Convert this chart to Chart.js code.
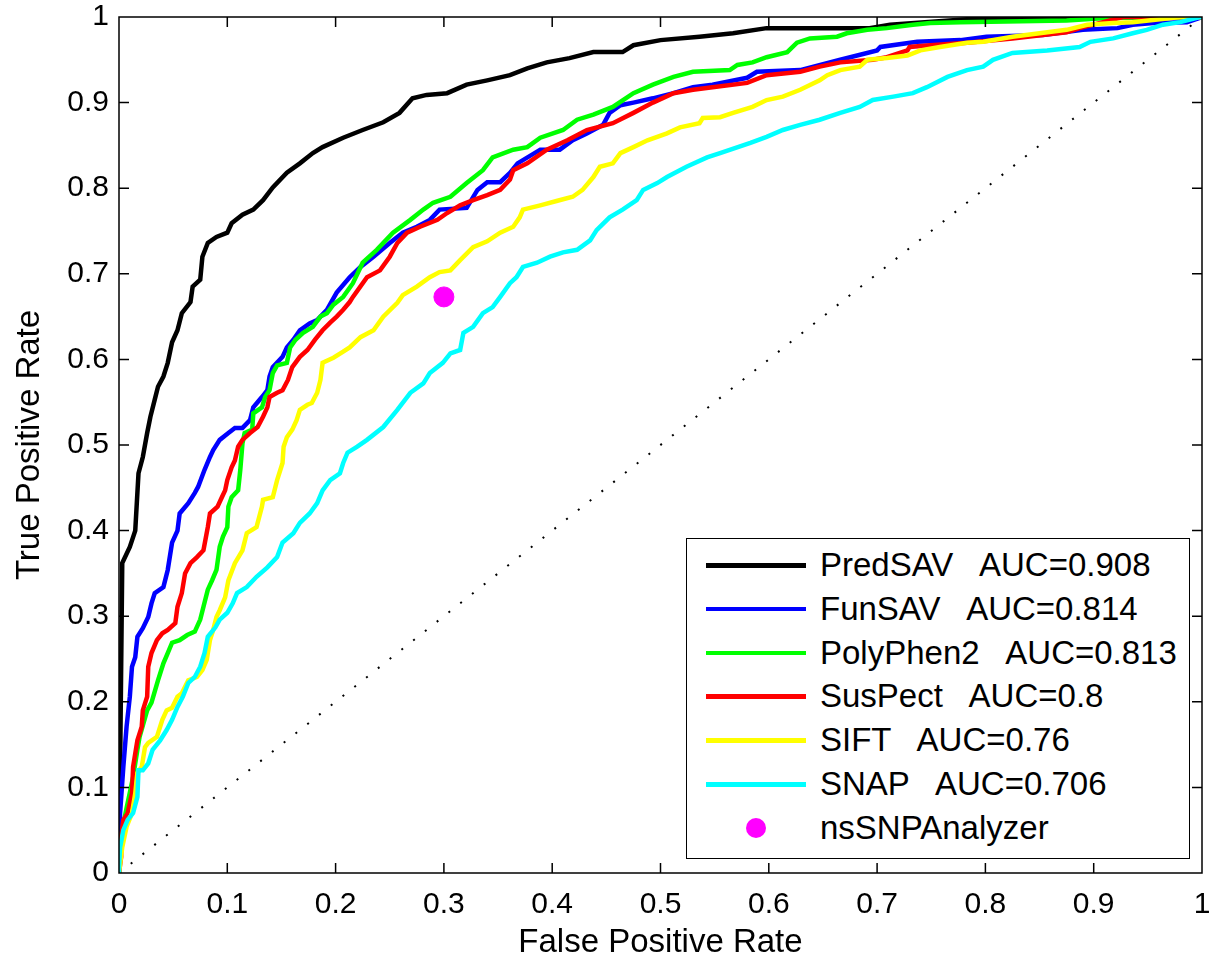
<!DOCTYPE html>
<html lang="en">
<head>
<meta charset="UTF-8">
<title>ROC curves</title>
<script src="https://cdn.jsdelivr.net/npm/chart.js@4.4.0/dist/chart.umd.min.js"></script>
<style>
  body { margin: 0; background: #fff; }
  .wrap { position: relative; width: 1221px; height: 960px; }
  .legend {
    position: absolute; left: 686px; top: 538px; width: 504px; height: 321px;
    box-sizing: border-box; border: 1.5px solid #000; background: #fff;
    font-family: 'Liberation Sans', Arial, sans-serif; font-size: 33px; color: #000;
  }
  .row { position: absolute; left: 0; width: 100%; height: 32px; line-height: 32px; }
  .swatch { position: absolute; left: 19px; top: 14px; width: 100px; height: 4.5px; }
  .dot { position: absolute; left: 59px; top: 6px; width: 20px; height: 20px; border-radius: 50%; background: #ff00ff; }
  .label { position: absolute; left: 133px; top: 0; white-space: pre; }
</style>
</head>
<body>
<div class="wrap">
  <canvas id="roc" width="1221" height="960"></canvas>
  <div class="legend" id="legend"></div>
</div>
<script>
// ROC points: [false positive rate, true positive rate]
const predSAV = [[0,0],[0.001,0.12],[0.003,0.362],[0.010,0.381],[0.015,0.40],[0.018,0.467],[0.022,0.486],[0.026,0.514],[0.029,0.533],[0.033,0.553],[0.036,0.568],[0.041,0.58],[0.045,0.596],[0.049,0.62],[0.054,0.634],[0.058,0.654],[0.066,0.667],[0.068,0.685],[0.075,0.693],[0.077,0.72],[0.082,0.736],[0.090,0.743],[0.100,0.748],[0.104,0.759],[0.114,0.769],[0.124,0.775],[0.133,0.786],[0.142,0.801],[0.155,0.818],[0.167,0.829],[0.179,0.841],[0.188,0.848],[0.207,0.859],[0.225,0.868],[0.244,0.877],[0.259,0.888],[0.271,0.905],[0.284,0.909],[0.303,0.911],[0.321,0.921],[0.340,0.926],[0.361,0.932],[0.377,0.940],[0.395,0.947],[0.416,0.952],[0.438,0.959],[0.465,0.959],[0.475,0.967],[0.500,0.973],[0.536,0.977],[0.567,0.981],[0.598,0.987],[0.693,0.987],[0.712,0.991],[0.801,0.999],[1,1]];

const funSAV = [[0,0],[0.001,0.07],[0.004,0.124],[0.007,0.171],[0.010,0.206],[0.012,0.241],[0.015,0.252],[0.017,0.276],[0.022,0.286],[0.027,0.299],[0.030,0.315],[0.033,0.327],[0.041,0.334],[0.045,0.354],[0.049,0.386],[0.054,0.40],[0.056,0.42],[0.064,0.432],[0.070,0.444],[0.073,0.451],[0.079,0.471],[0.084,0.486],[0.087,0.494],[0.093,0.506],[0.101,0.514],[0.107,0.52],[0.114,0.52],[0.121,0.529],[0.124,0.544],[0.132,0.556],[0.137,0.564],[0.139,0.58],[0.142,0.591],[0.151,0.603],[0.155,0.614],[0.161,0.623],[0.167,0.634],[0.176,0.642],[0.183,0.646],[0.192,0.658],[0.201,0.678],[0.213,0.696],[0.223,0.708],[0.235,0.72],[0.250,0.736],[0.262,0.748],[0.275,0.755],[0.287,0.763],[0.296,0.775],[0.321,0.777],[0.331,0.798],[0.340,0.807],[0.352,0.807],[0.361,0.818],[0.368,0.829],[0.389,0.845],[0.407,0.845],[0.419,0.856],[0.432,0.864],[0.447,0.874],[0.453,0.888],[0.463,0.897],[0.475,0.900],[0.493,0.905],[0.512,0.911],[0.530,0.918],[0.548,0.921],[0.580,0.929],[0.589,0.936],[0.629,0.938],[0.666,0.950],[0.700,0.961],[0.703,0.965],[0.737,0.971],[0.777,0.973],[0.801,0.977],[0.853,0.979],[0.890,0.985],[0.922,0.987],[0.936,0.991],[0.955,0.993],[0.986,0.994],[1,1]];

const polyPhen2 = [[0,0],[0.001,0.035],[0.006,0.07],[0.013,0.112],[0.017,0.144],[0.019,0.159],[0.026,0.19],[0.030,0.199],[0.036,0.225],[0.041,0.245],[0.045,0.257],[0.049,0.269],[0.056,0.272],[0.063,0.278],[0.070,0.282],[0.075,0.296],[0.078,0.311],[0.082,0.331],[0.086,0.342],[0.090,0.354],[0.093,0.381],[0.096,0.393],[0.100,0.404],[0.101,0.428],[0.104,0.439],[0.110,0.447],[0.112,0.471],[0.114,0.502],[0.116,0.514],[0.123,0.518],[0.124,0.537],[0.132,0.544],[0.135,0.556],[0.139,0.564],[0.142,0.584],[0.146,0.593],[0.155,0.596],[0.158,0.614],[0.163,0.623],[0.170,0.631],[0.179,0.638],[0.186,0.650],[0.192,0.654],[0.198,0.664],[0.207,0.673],[0.216,0.689],[0.225,0.713],[0.238,0.728],[0.253,0.748],[0.269,0.763],[0.281,0.775],[0.290,0.783],[0.306,0.790],[0.321,0.806],[0.336,0.821],[0.345,0.836],[0.364,0.845],[0.377,0.848],[0.389,0.859],[0.410,0.868],[0.423,0.880],[0.438,0.886],[0.456,0.895],[0.475,0.911],[0.493,0.921],[0.512,0.930],[0.530,0.936],[0.564,0.938],[0.571,0.944],[0.585,0.947],[0.598,0.953],[0.617,0.959],[0.626,0.970],[0.638,0.975],[0.663,0.977],[0.672,0.981],[0.691,0.985],[0.709,0.987],[0.733,0.991],[0.749,0.993],[0.777,0.994],[0.875,0.996],[0.915,0.999],[1,1]];

const susPect = [[0,0],[0.002,0.019],[0.002,0.042],[0.004,0.062],[0.008,0.07],[0.012,0.093],[0.013,0.124],[0.017,0.155],[0.021,0.171],[0.022,0.19],[0.026,0.206],[0.027,0.241],[0.030,0.257],[0.035,0.272],[0.040,0.28],[0.045,0.284],[0.052,0.292],[0.054,0.311],[0.058,0.327],[0.061,0.350],[0.066,0.362],[0.072,0.369],[0.078,0.377],[0.082,0.404],[0.084,0.42],[0.091,0.428],[0.095,0.439],[0.098,0.447],[0.100,0.459],[0.104,0.474],[0.107,0.482],[0.110,0.498],[0.114,0.506],[0.121,0.514],[0.128,0.521],[0.133,0.533],[0.137,0.544],[0.139,0.556],[0.146,0.561],[0.151,0.564],[0.156,0.576],[0.160,0.591],[0.167,0.603],[0.174,0.611],[0.181,0.623],[0.188,0.634],[0.195,0.643],[0.201,0.650],[0.207,0.658],[0.213,0.667],[0.216,0.673],[0.229,0.696],[0.241,0.704],[0.250,0.72],[0.257,0.736],[0.266,0.748],[0.278,0.755],[0.294,0.763],[0.303,0.771],[0.315,0.780],[0.327,0.786],[0.340,0.792],[0.352,0.798],[0.361,0.810],[0.364,0.821],[0.377,0.829],[0.395,0.845],[0.414,0.856],[0.432,0.868],[0.456,0.876],[0.475,0.888],[0.493,0.900],[0.512,0.911],[0.530,0.915],[0.548,0.918],[0.580,0.923],[0.598,0.932],[0.629,0.936],[0.647,0.942],[0.666,0.947],[0.696,0.950],[0.709,0.953],[0.728,0.961],[0.730,0.965],[0.749,0.967],[0.783,0.970],[0.825,0.975],[0.853,0.979],[0.875,0.982],[0.887,0.987],[0.915,0.996],[0.927,1],[1,1]];

const sift = [[0,0],[0.003,0.03],[0.007,0.054],[0.012,0.07],[0.015,0.093],[0.017,0.117],[0.021,0.124],[0.024,0.147],[0.027,0.152],[0.035,0.159],[0.040,0.179],[0.044,0.19],[0.049,0.193],[0.054,0.206],[0.058,0.21],[0.064,0.225],[0.072,0.229],[0.077,0.237],[0.081,0.249],[0.084,0.272],[0.087,0.284],[0.090,0.299],[0.093,0.307],[0.098,0.322],[0.101,0.342],[0.107,0.362],[0.114,0.377],[0.118,0.397],[0.127,0.404],[0.132,0.428],[0.133,0.436],[0.142,0.439],[0.146,0.459],[0.151,0.479],[0.152,0.498],[0.155,0.509],[0.160,0.518],[0.164,0.529],[0.167,0.541],[0.174,0.547],[0.178,0.549],[0.183,0.561],[0.186,0.576],[0.188,0.596],[0.198,0.602],[0.207,0.609],[0.213,0.614],[0.223,0.626],[0.235,0.634],[0.244,0.650],[0.257,0.666],[0.262,0.675],[0.275,0.685],[0.287,0.696],[0.296,0.702],[0.306,0.704],[0.315,0.716],[0.327,0.731],[0.340,0.738],[0.352,0.748],[0.364,0.755],[0.370,0.766],[0.373,0.775],[0.389,0.780],[0.404,0.785],[0.419,0.790],[0.428,0.798],[0.438,0.813],[0.444,0.825],[0.456,0.829],[0.463,0.841],[0.475,0.848],[0.488,0.856],[0.506,0.864],[0.518,0.871],[0.536,0.876],[0.539,0.882],[0.555,0.883],[0.567,0.888],[0.585,0.895],[0.598,0.903],[0.613,0.907],[0.629,0.915],[0.647,0.926],[0.654,0.932],[0.666,0.938],[0.684,0.942],[0.691,0.950],[0.709,0.952],[0.728,0.955],[0.740,0.961],[0.758,0.965],[0.783,0.970],[0.798,0.971],[0.825,0.977],[0.850,0.981],[0.875,0.985],[0.894,0.991],[0.918,0.993],[0.936,0.994],[0.980,1],[1,1]];

const snap = [[0,0],[0,0.007],[0.001,0.03],[0.004,0.05],[0.008,0.062],[0.013,0.07],[0.017,0.089],[0.018,0.12],[0.022,0.12],[0.027,0.128],[0.031,0.144],[0.038,0.155],[0.044,0.167],[0.049,0.179],[0.054,0.194],[0.059,0.206],[0.064,0.222],[0.070,0.229],[0.075,0.241],[0.079,0.257],[0.082,0.276],[0.089,0.287],[0.093,0.296],[0.100,0.304],[0.105,0.315],[0.109,0.327],[0.118,0.334],[0.127,0.346],[0.137,0.357],[0.146,0.369],[0.151,0.386],[0.161,0.397],[0.167,0.409],[0.176,0.420],[0.183,0.432],[0.188,0.447],[0.195,0.459],[0.204,0.467],[0.207,0.479],[0.211,0.491],[0.220,0.498],[0.229,0.506],[0.244,0.521],[0.257,0.541],[0.269,0.561],[0.281,0.572],[0.287,0.584],[0.299,0.596],[0.306,0.607],[0.315,0.611],[0.318,0.631],[0.327,0.638],[0.336,0.654],[0.345,0.661],[0.352,0.673],[0.361,0.689],[0.367,0.696],[0.373,0.708],[0.386,0.713],[0.398,0.720],[0.410,0.725],[0.423,0.728],[0.435,0.739],[0.441,0.751],[0.453,0.766],[0.465,0.775],[0.478,0.786],[0.484,0.798],[0.497,0.806],[0.506,0.813],[0.524,0.825],[0.543,0.836],[0.555,0.841],[0.583,0.853],[0.598,0.860],[0.613,0.868],[0.629,0.874],[0.647,0.880],[0.666,0.888],[0.684,0.895],[0.696,0.903],[0.715,0.907],[0.733,0.911],[0.746,0.918],[0.765,0.930],[0.783,0.938],[0.798,0.942],[0.807,0.950],[0.825,0.958],[0.857,0.961],[0.887,0.965],[0.897,0.971],[0.918,0.975],[0.936,0.981],[0.949,0.985],[0.964,0.991],[0.980,0.994],[0.998,1],[1,1]];

const nsSNPAnalyzer = [[0.3, 0.673]];
const chance = [[0, 0], [1, 1]];

const seriesNames = ['PredSAV', 'FunSAV', 'PolyPhen2', 'SusPect', 'SIFT', 'SNAP'];
const seriesAUC = ['0.908', '0.814', '0.813', '0.8', '0.76', '0.706'];
const seriesColors = ['#000000', '#0000ff', '#00ff00', '#ff0000', '#ffff00', '#00ffff'];
const seriesData = [predSAV, funSAV, polyPhen2, susPect, sift, snap];
const tickLabels = ['0', '0.1', '0.2', '0.3', '0.4', '0.5', '0.6', '0.7', '0.8', '0.9', '1'];

const toXY = pts => pts.map(p => ({ x: p[0], y: p[1] }));
const FONT = "'Liberation Sans', Arial, sans-serif";

// later curves drawn on top, like the original plot order
const datasets = seriesData.map((pts, i) => ({
  type: 'line',
  label: seriesNames[i],
  data: toXY(pts),
  borderColor: seriesColors[i],
  borderWidth: 4.5,
  pointRadius: 0,
  tension: 0,
  order: 20 - i
}));
datasets.push({
  type: 'line', label: 'chance', data: toXY(chance),
  borderColor: '#000', borderWidth: 2, borderDash: [2, 13], pointRadius: 0, order: 30
});
datasets.push({
  type: 'scatter', label: 'nsSNPAnalyzer', data: toXY(nsSNPAnalyzer),
  backgroundColor: '#ff00ff', borderColor: '#ff00ff', pointRadius: 10, order: 1
});

// box round the plot with inward tick marks on all four sides
const frame = {
  id: 'frame',
  afterDatasetsDraw(chart) {
    const { ctx, chartArea: a, scales: { x, y } } = chart;
    ctx.save();
    ctx.strokeStyle = '#000';
    ctx.lineWidth = 1.5;
    ctx.beginPath();
    x.ticks.forEach(t => {
      if (t.value <= 0 || t.value >= 1) return;
      const px = x.getPixelForValue(t.value);
      ctx.moveTo(px, a.bottom); ctx.lineTo(px, a.bottom - 10);
      ctx.moveTo(px, a.top); ctx.lineTo(px, a.top + 10);
    });
    y.ticks.forEach(t => {
      if (t.value <= 0 || t.value >= 1) return;
      const py = y.getPixelForValue(t.value);
      ctx.moveTo(a.left, py); ctx.lineTo(a.left + 10, py);
      ctx.moveTo(a.right, py); ctx.lineTo(a.right - 10, py);
    });
    ctx.stroke();
    ctx.strokeRect(a.left, a.top, a.right - a.left, a.bottom - a.top);
    ctx.restore();
  }
};

const tickCb = v => tickLabels[Math.round(v * 10)];
// keep the end labels from pushing the plot area in
const noOverflow = s => { s.paddingTop = 0; s.paddingBottom = 0; s.paddingLeft = 0; s.paddingRight = 0; };

new Chart(document.getElementById('roc'), {
  data: { datasets },
  options: {
    responsive: false,
    animation: false,
    layout: { padding: { left: 0, top: 17, right: 19, bottom: 0 } },
    plugins: { legend: { display: false }, tooltip: { enabled: false } },
    scales: {
      x: {
        type: 'linear', min: 0, max: 1,
        afterFit: s => { s.height = 87; noOverflow(s); },
        grid: { display: false, drawTicks: false },
        border: { display: false },
        ticks: { stepSize: 0.1, padding: 14, color: '#000', autoSkip: false, maxRotation: 0,
                 font: { family: FONT, size: 30 }, callback: tickCb },
        title: { display: true, text: 'False Positive Rate', color: '#000',
                 font: { family: FONT, size: 33, lineHeight: 1 }, padding: { top: 0, bottom: 1 } }
      },
      y: {
        type: 'linear', min: 0, max: 1,
        afterFit: s => { s.width = 119; noOverflow(s); },
        grid: { display: false, drawTicks: false },
        border: { display: false },
        ticks: { stepSize: 0.1, padding: 10, color: '#000', autoSkip: false,
                 font: { family: FONT, size: 30 }, callback: tickCb },
        title: { display: true, text: 'True Positive Rate', color: '#000',
                 font: { family: FONT, size: 33 }, padding: { top: 10, bottom: 0 } }
      }
    }
  },
  plugins: [frame]
});

// legend box drawn as html over the plot
const legend = document.getElementById('legend');
const rowTop = i => 10 + i * 43.8;
seriesNames.forEach((name, i) => {
  const row = document.createElement('div');
  row.className = 'row';
  row.style.top = rowTop(i) + 'px';
  row.innerHTML = '<div class="swatch" style="background:' + seriesColors[i] + '"></div>' +
    '<div class="label">' + name + '   AUC=' + seriesAUC[i] + '</div>';
  legend.appendChild(row);
});
const last = document.createElement('div');
last.className = 'row';
last.style.top = rowTop(6) + 'px';
last.innerHTML = '<div class="dot"></div><div class="label">nsSNPAnalyzer</div>';
legend.appendChild(last);
</script>
</body>
</html>
